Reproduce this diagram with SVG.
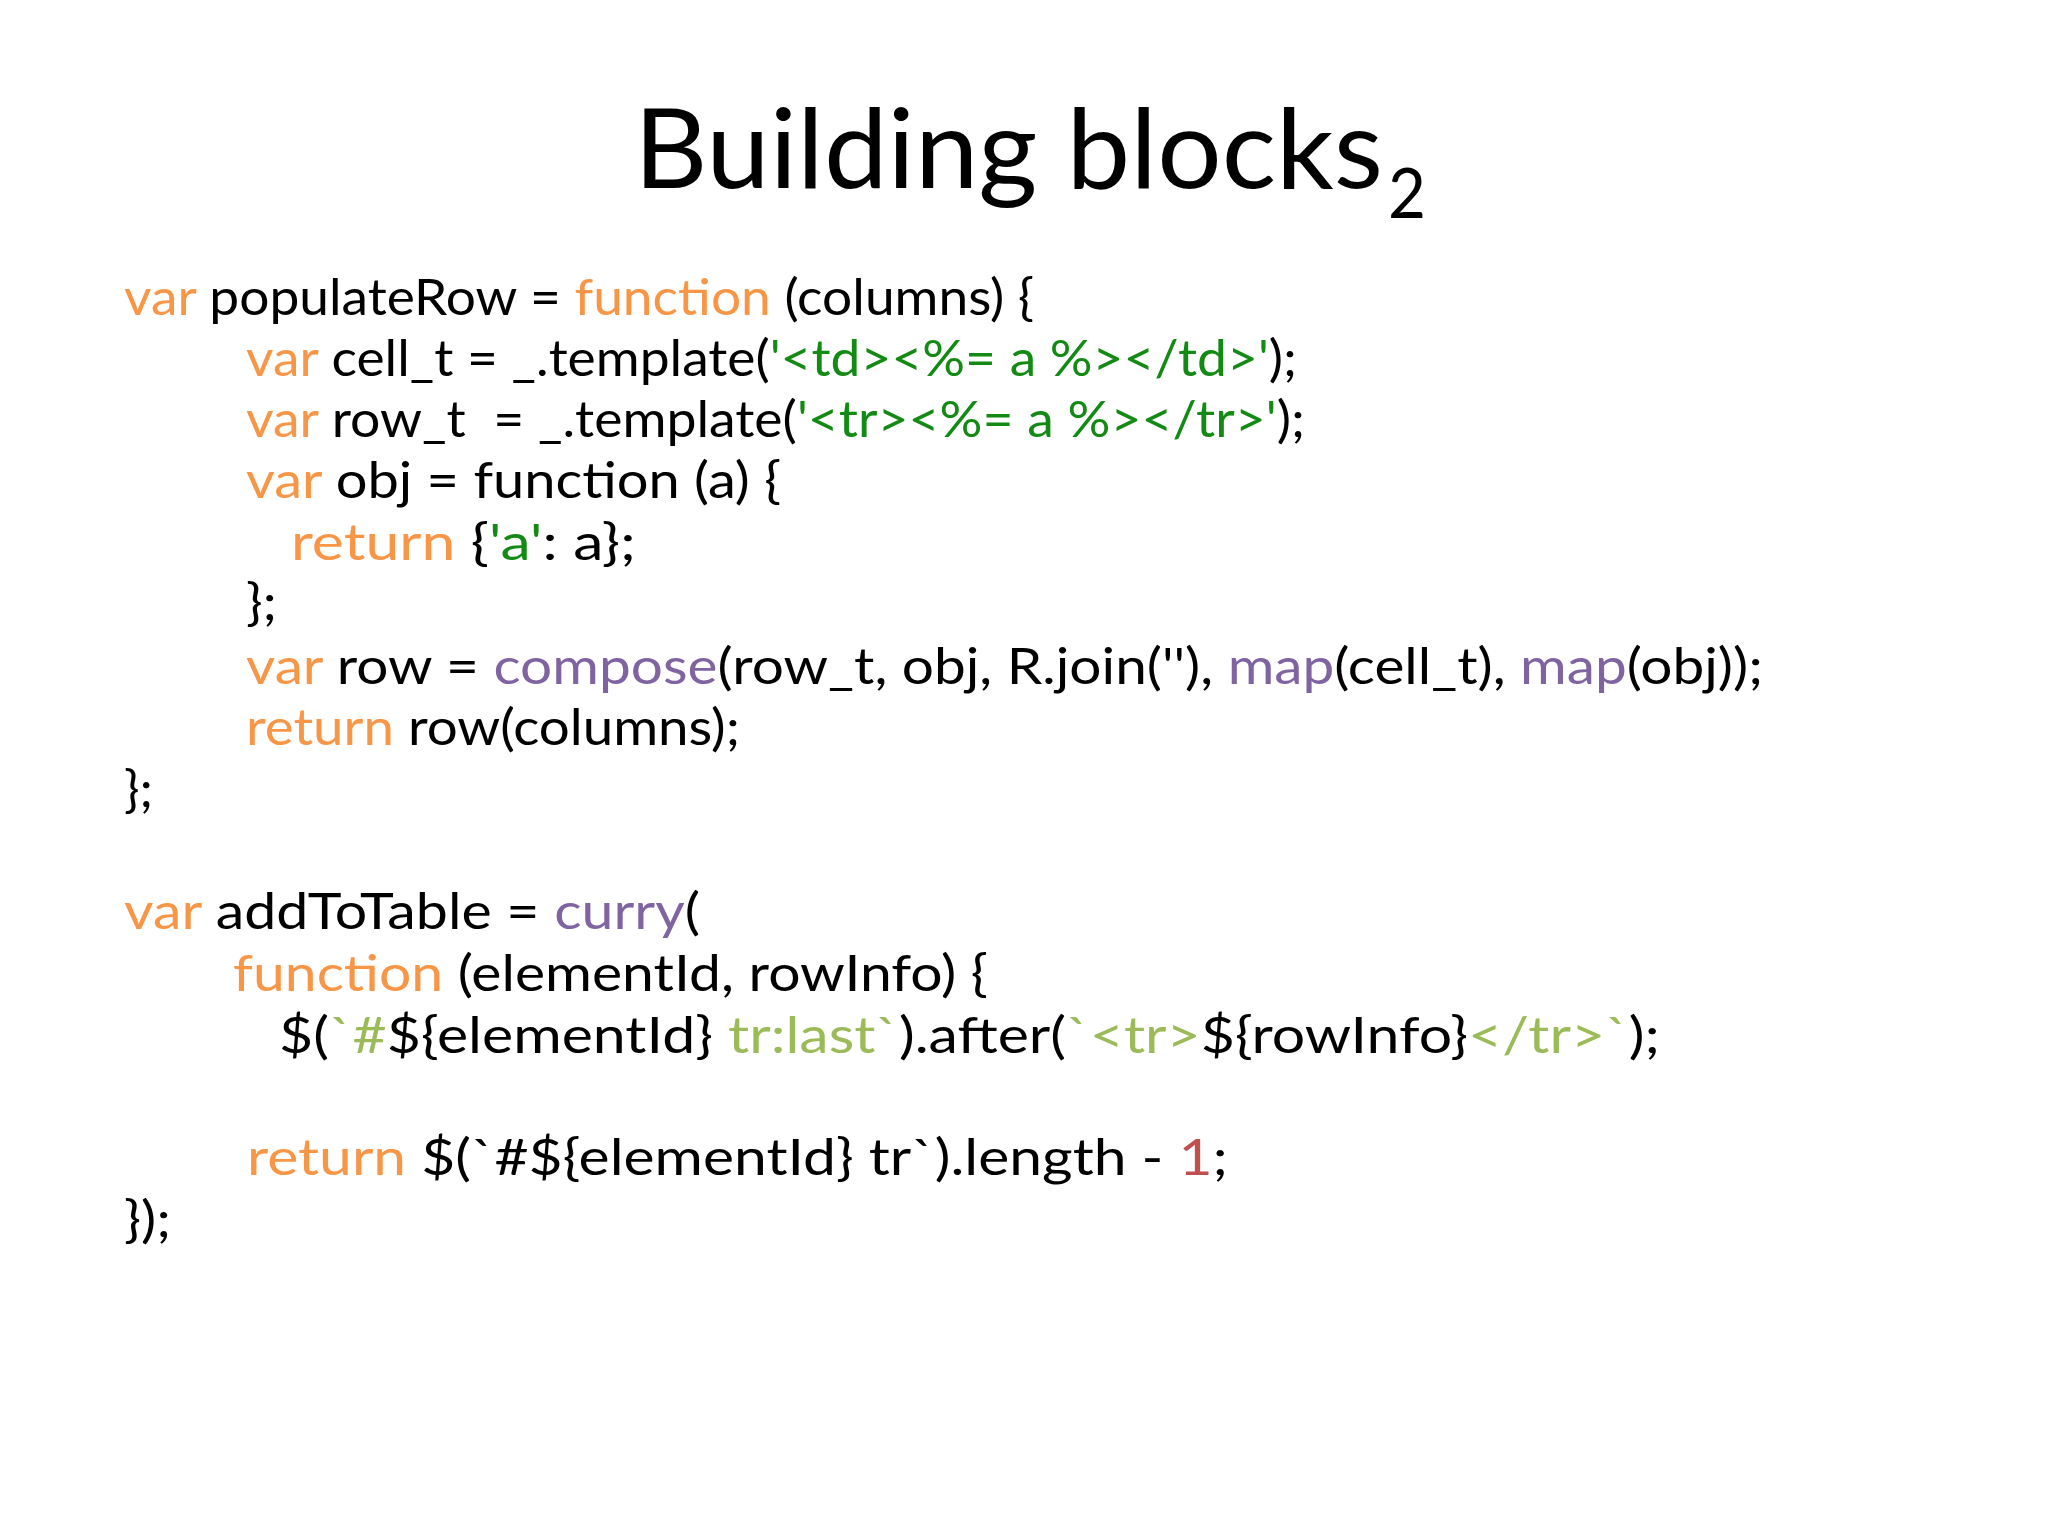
<svg xmlns="http://www.w3.org/2000/svg" width="2048" height="1536" viewBox="0 0 2048 1536">
<style>
.title{font-family:Lato,"Open Sans","Liberation Sans",sans-serif;font-size:110px;fill:#000}
.sub{font-family:Lato,"Open Sans","Liberation Sans",sans-serif;font-size:70px;fill:#000}
.code{font-family:Lato,"Noto Sans","Liberation Sans",sans-serif;font-size:50px;fill:#000}
.k{fill:#F79646}
.s{fill:#138A13}
.p{fill:#8064A2}
.t{fill:#9BBB59}
.n{fill:#C0504D}
</style>
<rect width="2048" height="1536" fill="#fff"/>
<g id="title">
<text class="title" x="634" y="188" textLength="749" lengthAdjust="spacingAndGlyphs">Building blocks</text>
<text class="sub" x="1388" y="218" textLength="38" lengthAdjust="spacingAndGlyphs">2</text>
</g>
<g id="populateRow">
<text class="code" xml:space="preserve" x="124" y="315" textLength="910" lengthAdjust="spacingAndGlyphs"><tspan class="k">var</tspan> populateRow = <tspan class="k">function</tspan> (columns) {</text>
<text class="code" xml:space="preserve" x="246" y="376" textLength="1051" lengthAdjust="spacingAndGlyphs"><tspan class="k">var</tspan> cell_t = _.template(<tspan class="s">'&lt;td&gt;&lt;%= a %&gt;&lt;/td&gt;'</tspan>);</text>
<text class="code" xml:space="preserve" x="246" y="437" textLength="1059" lengthAdjust="spacingAndGlyphs"><tspan class="k">var</tspan> row_t  = _.template(<tspan class="s">'&lt;tr&gt;&lt;%= a %&gt;&lt;/tr&gt;'</tspan>);</text>
<text class="code" xml:space="preserve" x="246" y="498" textLength="535" lengthAdjust="spacingAndGlyphs"><tspan class="k">var</tspan> obj = function (a) {</text>
<text class="code" xml:space="preserve" x="291" y="560" textLength="345" lengthAdjust="spacingAndGlyphs"><tspan class="k">return</tspan> {<tspan class="s">'a'</tspan>: a};</text>
<text class="code" xml:space="preserve" x="246" y="620" textLength="31" lengthAdjust="spacingAndGlyphs">};</text>
<text class="code" xml:space="preserve" x="246" y="684" textLength="1517" lengthAdjust="spacingAndGlyphs"><tspan class="k">var</tspan> row = <tspan class="p">compose</tspan>(row_t, obj, R.join(''), <tspan class="p">map</tspan>(cell_t), <tspan class="p">map</tspan>(obj));</text>
<text class="code" xml:space="preserve" x="246" y="745" textLength="494" lengthAdjust="spacingAndGlyphs"><tspan class="k">return</tspan> row(columns);</text>
<text class="code" xml:space="preserve" x="124" y="807" textLength="29" lengthAdjust="spacingAndGlyphs">};</text>
</g>
<g id="addToTable">
<text class="code" xml:space="preserve" x="124" y="929" textLength="576" lengthAdjust="spacingAndGlyphs"><tspan class="k">var</tspan> addToTable = <tspan class="p">curry</tspan>(</text>
<text class="code" xml:space="preserve" x="233" y="991" textLength="755" lengthAdjust="spacingAndGlyphs"><tspan class="k">function</tspan> (elementId, rowInfo) {</text>
<text class="code" xml:space="preserve" x="279" y="1053" textLength="1381" lengthAdjust="spacingAndGlyphs">$(<tspan class="t">`#</tspan>${elementId}<tspan class="t"> tr:last`</tspan>).after(<tspan class="t">`&lt;tr&gt;</tspan>${rowInfo}<tspan class="t">&lt;/tr&gt;`</tspan>);</text>
<text class="code" xml:space="preserve" x="247" y="1175" textLength="981" lengthAdjust="spacingAndGlyphs"><tspan class="k">return</tspan> $(`#${elementId} tr`).length - <tspan class="n">1</tspan>;</text>
<text class="code" xml:space="preserve" x="124" y="1237" textLength="47" lengthAdjust="spacingAndGlyphs">});</text>
</g>
</svg>
